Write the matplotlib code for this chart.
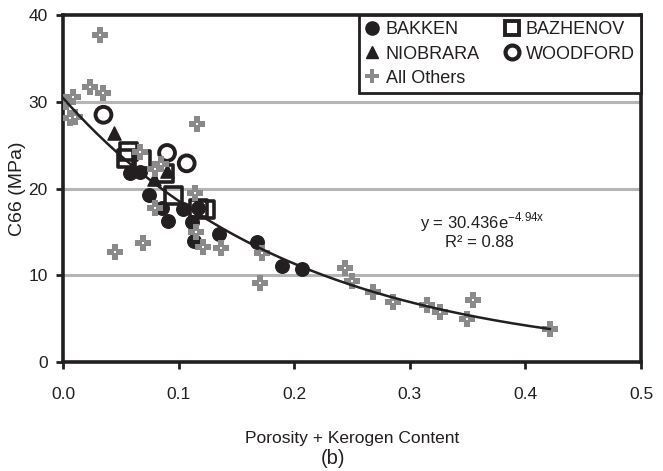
import numpy as np
import matplotlib
matplotlib.use("Agg")
import matplotlib.pyplot as plt
from matplotlib.lines import Line2D

plt.rcParams['font.family'] = ['Liberation Sans', 'DejaVu Sans']
plt.rcParams['mathtext.fontset'] = 'custom'
plt.rcParams['mathtext.rm'] = 'Liberation Sans'

# porosity + kerogen content vs C66 for each shale group
bakken_x = [0.058, 0.067, 0.074, 0.086, 0.091, 0.104, 0.112, 0.117, 0.113, 0.135, 0.168, 0.189, 0.207]
bakken_y = [21.8, 21.9, 19.3, 17.7, 16.3, 17.6, 16.1, 17.8, 14.0, 14.7, 13.8, 11.1, 10.7]

bazhenov_x = [0.057, 0.055, 0.068, 0.088, 0.096, 0.117, 0.123]
bazhenov_y = [24.3, 23.5, 23.4, 21.7, 19.2, 17.7, 17.6]

niobrara_x = [0.044, 0.079, 0.090]
niobrara_y = [26.4, 21.1, 22.0]

woodford_x = [0.035, 0.090, 0.107]
woodford_y = [28.5, 24.1, 22.9]

others_x = [0.032, 0.023, 0.035, 0.009, 0.003, 0.006, 0.010, 0.116, 0.067, 0.080,
            0.114, 0.080, 0.115, 0.121, 0.137, 0.069, 0.045, 0.172, 0.170, 0.244,
            0.250, 0.268, 0.285, 0.315, 0.326, 0.349, 0.355, 0.421, 0.085]
others_y = [37.7, 31.7, 31.0, 30.5, 30.0, 28.1, 28.3, 27.4, 24.2, 22.3,
            19.5, 17.7, 15.0, 13.3, 13.1, 13.7, 12.7, 12.6, 9.1, 10.8,
            9.3, 8.1, 6.9, 6.6, 5.8, 5.0, 7.1, 3.8, 22.8]

# exponential trend y = a * exp(b x)
fit_a = 30.436
fit_b = -4.94
fit_r2 = 0.88

ink = '#231f20'
grey = '#8a8a8a'

fig = plt.figure(figsize=(6.63, 4.71), dpi=100)
ax = fig.add_axes([0.095, 0.2314, 0.872, 0.7367])

ax.set_xlim(0, 0.5)
ax.set_ylim(0, 40)
ax.set_yticks([0, 10, 20, 30, 40])
ax.set_xticks([0.0, 0.1, 0.2, 0.3, 0.4, 0.5])
ax.set_xticklabels(['0.0', '0.1', '0.2', '0.3', '0.4', '0.5'])

for yv in [10, 20, 30]:
    ax.axhline(yv, color='#b5b5b5', lw=2.2, zorder=0)

for s in ax.spines.values():
    s.set_linewidth(2.6)
    s.set_color(ink)

ax.tick_params(axis='both', direction='out', length=5, width=2, color=ink,
               labelsize=12.5, labelcolor=ink)
ax.tick_params(axis='x', pad=13)
ax.tick_params(axis='y', pad=6)

ax.scatter(bakken_x, bakken_y, s=95, marker='o', color=ink, zorder=3)
ax.scatter(bazhenov_x, bazhenov_y, s=150, marker='s', facecolor='none',
           edgecolor=ink, linewidths=2.6, zorder=3)
ax.scatter(niobrara_x, niobrara_y, s=90, marker='^', color=ink, zorder=3)
ax.scatter(woodford_x, woodford_y, s=130, marker='o', facecolor='none',
           edgecolor=ink, linewidths=2.8, zorder=3)
ax.scatter(others_x, others_y, s=130, marker='P', color=grey, linewidths=0, zorder=4)
ax.scatter(others_x, others_y, s=4, marker='s', color='white', linewidths=0, zorder=4.5)

xf = np.linspace(0, max(others_x), 200)
ax.plot(xf, fit_a * np.exp(fit_b * xf), color=ink, lw=1.8, zorder=5)

ax.text(0.3625, 16.1, r'y = %.3fe$^{\mathrm{%.2fx}}$' % (fit_a, fit_b), ha='center', va='center',
        fontsize=12, color=ink)
ax.text(0.360, 13.8, 'R² = %.2f' % fit_r2, ha='center', va='center', fontsize=12, color=ink)

ax.set_xlabel('Porosity + Kerogen Content', fontsize=12.5, color=ink, labelpad=21)
ax.set_ylabel('C66 (MPa)', fontsize=14, color=ink, labelpad=2)
fig.text(0.502, 0.006, '(b)', ha='center', va='bottom', fontsize=14.5, color=ink)

handles = [
    Line2D([], [], ls='none', marker='o', ms=9.5, color=ink),
    Line2D([], [], ls='none', marker='^', ms=8, color=ink),
    Line2D([], [], ls='none', marker='P', ms=10, color=grey, mew=0),
    Line2D([], [], ls='none', marker='s', ms=9.5, mfc='none', mec=ink, mew=2.8),
    Line2D([], [], ls='none', marker='o', ms=10, mfc='none', mec=ink, mew=3),
]
labels = ['BAKKEN', 'NIOBRARA', 'All Others', 'BAZHENOV', 'WOODFORD']
leg = ax.legend(handles, labels, ncol=2, loc='upper right', bbox_to_anchor=(1.0, 1.0),
                fontsize=13, frameon=True, fancybox=False, framealpha=1,
                handlelength=0.8, handletextpad=0.35, columnspacing=1.4,
                labelspacing=0.4, borderpad=0.35, borderaxespad=0.0)
leg.get_frame().set_edgecolor(ink)
leg.get_frame().set_linewidth(2)
for t in leg.get_texts():
    t.set_color(ink)

fig.savefig('out.png', dpi=100)
